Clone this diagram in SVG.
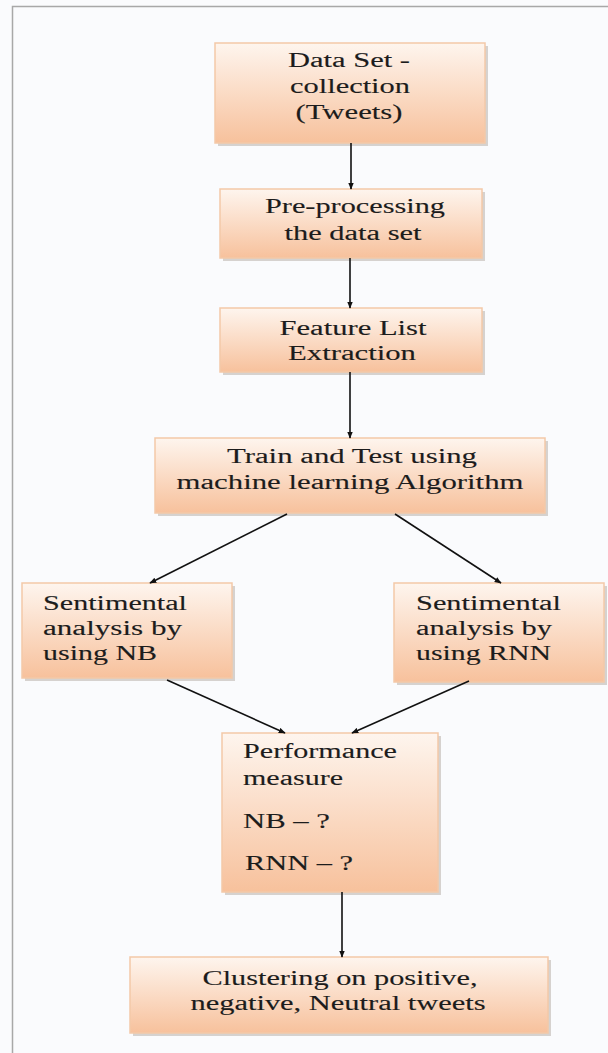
<svg xmlns="http://www.w3.org/2000/svg" width="608" height="1053" viewBox="0 0 608 1053">
<defs>
<linearGradient id="g" x1="0" y1="0" x2="0" y2="1">
<stop offset="0" stop-color="#fef5ee"/>
<stop offset="1" stop-color="#f7c19c"/>
</linearGradient>
<marker id="ah" viewBox="0 0 10 10" refX="9" refY="5" markerWidth="7" markerHeight="7" orient="auto" markerUnits="userSpaceOnUse">
<path d="M0,1 L10,5 L0,9 Z" fill="#111"/>
</marker>
</defs>
<style>
.box{fill:url(#g);stroke:#f3c9a8;stroke-width:1.5}
.sh{fill:#b8b0aa;opacity:0.55}
.t{font-family:"Liberation Serif","Times New Roman",serif;font-size:20px;fill:#1c1c1c;stroke:#1c1c1c;stroke-width:0.12}
.c{text-anchor:middle}
.e{stroke:#111;stroke-width:1.6;fill:none;marker-end:url(#ah)}
</style>
<rect x="0" y="0" width="608" height="1053" fill="#fafbfd"/>
<path d="M12.5,1053 L12.5,6.5 L608,6.5" fill="none" stroke="#a8a8a8" stroke-width="1.5"/>

<g id="n1">
<rect class="sh" x="218" y="46" width="270" height="100"/>
<rect class="box" x="215" y="43" width="270" height="100"/>
<text class="t c" x="349" y="67" textLength="122" lengthAdjust="spacingAndGlyphs">Data Set -</text>
<text class="t c" x="350" y="93" textLength="120" lengthAdjust="spacingAndGlyphs">collection</text>
<text class="t c" x="349" y="119" textLength="107" lengthAdjust="spacingAndGlyphs">(Tweets)</text>
</g>

<g id="n2">
<rect class="sh" x="223" y="192" width="262" height="69"/>
<rect class="box" x="220" y="189" width="262" height="69"/>
<text class="t c" x="355" y="213" textLength="180" lengthAdjust="spacingAndGlyphs">Pre-processing</text>
<text class="t c" x="353" y="240" textLength="137" lengthAdjust="spacingAndGlyphs">the data set</text>
</g>

<g id="n3">
<rect class="sh" x="223" y="311" width="262" height="64"/>
<rect class="box" x="220" y="308" width="262" height="64"/>
<text class="t c" x="353" y="335" textLength="147" lengthAdjust="spacingAndGlyphs">Feature List</text>
<text class="t c" x="352" y="360" textLength="128" lengthAdjust="spacingAndGlyphs">Extraction</text>
</g>

<g id="n4">
<rect class="sh" x="158" y="441" width="390" height="75"/>
<rect class="box" x="155" y="438" width="390" height="75"/>
<text class="t c" x="352" y="463" textLength="250" lengthAdjust="spacingAndGlyphs">Train and Test using</text>
<text class="t c" x="350" y="489" textLength="347" lengthAdjust="spacingAndGlyphs">machine learning Algorithm</text>
</g>

<g id="n5">
<rect class="sh" x="25" y="586" width="210" height="95"/>
<rect class="box" x="22" y="583" width="210" height="95"/>
<text class="t" x="43" y="610" textLength="144" lengthAdjust="spacingAndGlyphs">Sentimental</text>
<text class="t" x="43" y="635" textLength="139" lengthAdjust="spacingAndGlyphs">analysis by</text>
<text class="t" x="43" y="660" textLength="114" lengthAdjust="spacingAndGlyphs">using NB</text>
</g>

<g id="n6">
<rect class="sh" x="397" y="586" width="210" height="99"/>
<rect class="box" x="394" y="583" width="210" height="99"/>
<text class="t" x="416" y="610" textLength="145" lengthAdjust="spacingAndGlyphs">Sentimental</text>
<text class="t" x="416" y="635" textLength="136" lengthAdjust="spacingAndGlyphs">analysis by</text>
<text class="t" x="416" y="660" textLength="135" lengthAdjust="spacingAndGlyphs">using RNN</text>
</g>

<g id="n7">
<rect class="sh" x="225" y="736" width="216" height="159"/>
<rect class="box" x="222" y="733" width="216" height="159"/>
<text class="t" x="243" y="758" textLength="154" lengthAdjust="spacingAndGlyphs">Performance</text>
<text class="t" x="243" y="785" textLength="100" lengthAdjust="spacingAndGlyphs">measure</text>
<text class="t" x="243" y="828" textLength="87" lengthAdjust="spacingAndGlyphs">NB – ?</text>
<text class="t" x="245" y="870" textLength="108" lengthAdjust="spacingAndGlyphs">RNN – ?</text>
</g>

<g id="n8">
<rect class="sh" x="133" y="960" width="418" height="76"/>
<rect class="box" x="130" y="957" width="418" height="76"/>
<text class="t c" x="340" y="985" textLength="275" lengthAdjust="spacingAndGlyphs">Clustering on positive,</text>
<text class="t c" x="338" y="1010" textLength="295" lengthAdjust="spacingAndGlyphs">negative, Neutral tweets</text>
</g>

<g id="edges">
<line class="e" x1="351" y1="143" x2="351" y2="189"/>
<line class="e" x1="350" y1="258" x2="350" y2="308"/>
<line class="e" x1="350" y1="372" x2="350" y2="438"/>
<line class="e" x1="287" y1="514" x2="150" y2="583"/>
<line class="e" x1="395" y1="514" x2="501" y2="583"/>
<line class="e" x1="167" y1="680" x2="285" y2="733"/>
<line class="e" x1="469" y1="681" x2="352" y2="733"/>
<line class="e" x1="342" y1="892" x2="342" y2="957"/>
</g>
</svg>
